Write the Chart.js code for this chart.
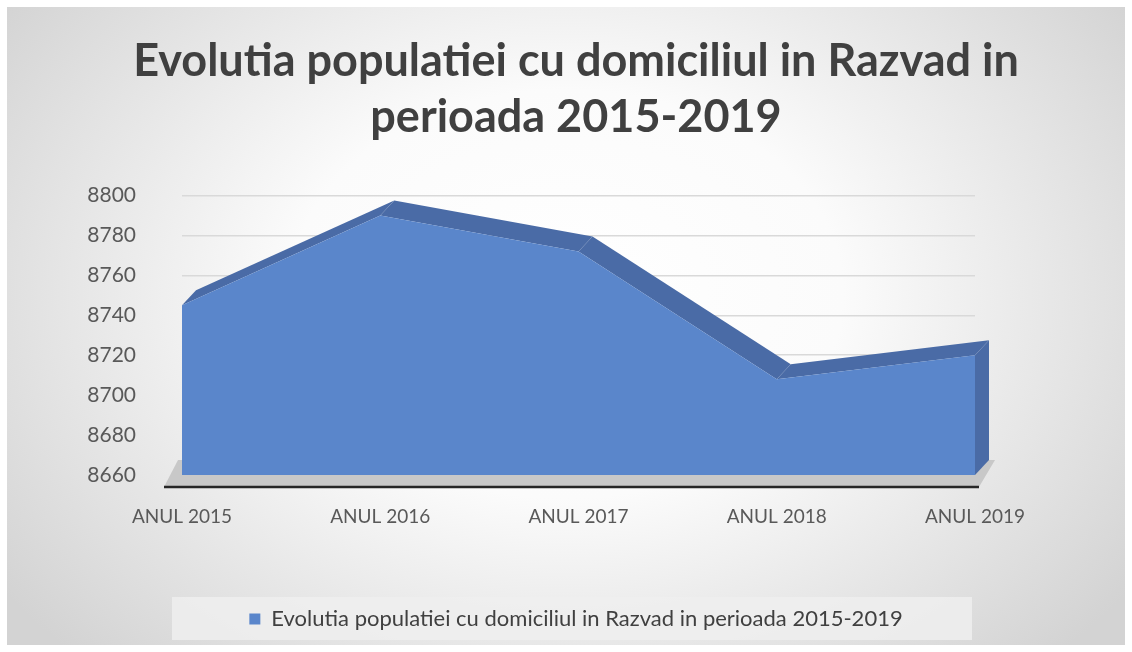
<!DOCTYPE html>
<html>
<head>
<meta charset="utf-8">
<script src="https://cdn.jsdelivr.net/npm/chart.js@4.4.1/dist/chart.umd.min.js"></script>
<style>
  html, body { margin: 0; padding: 0; background: #fff; }
  #wrap {
    position: absolute; left: 7px; top: 7px; width: 1118px; height: 638px;
    background: radial-gradient(ellipse 62% 80% at 50% 45%, #ffffff 0%, #fbfbfb 40%, #d3d3d3 100%);
  }
  canvas { display: block; }
</style>
</head>
<body>
<div id="wrap"><canvas id="popChart" width="1118" height="638"></canvas></div>
<script>
// date
const ani = ["ANUL 2015", "ANUL 2016", "ANUL 2017", "ANUL 2018", "ANUL 2019"];
const populatie = [8745, 8790, 8772, 8708, 8720];
const yMin = 8660;
const yMax = 8800;
const yPas = 20;
const titlu = ["Evolutia populatiei cu domiciliul in Razvad in", "perioada 2015-2019"];
const numeSerie = "Evolutia populatiei cu domiciliul in Razvad in perioada 2015-2019";

const albastru = "#5a86cb";
const albastruInchis = "#4a6ba6";
const adancime = { dx: 14, dy: -15 };

// fundal legenda
const legendBox = {
    id: "legendBox",
    beforeDraw(chart) {
        const lg = chart.legend;
        const ca = chart.chartArea;
        const ctx = chart.ctx;
        ctx.save();
        ctx.fillStyle = "rgba(238,238,238,0.85)";
        ctx.fillRect(ca.left - 10, lg.top, ca.right - ca.left + 7, lg.height);
        ctx.restore();
    },
};

// efect 3D: podea + partea de sus a ariei
const efect3d = {
    id: "efect3d",
    beforeDatasetsDraw(chart) {
        const ctx = chart.ctx;
        const ca = chart.chartArea;
        const pts = chart.getDatasetMeta(0).data;
        const dx = adancime.dx, dy = adancime.dy;
        const B = ca.bottom;
        ctx.save();
        // podea
        ctx.fillStyle = "#c8c8c8";
        ctx.beginPath();
        ctx.moveTo(ca.left - 18, B + 12);
        ctx.lineTo(ca.right + 4, B + 12);
        ctx.lineTo(ca.right + dx + 6, B + dy);
        ctx.lineTo(ca.left - 18 + dx, B + dy);
        ctx.closePath();
        ctx.fill();
        ctx.strokeStyle = "#262626";
        ctx.lineWidth = 2.5;
        ctx.beginPath();
        ctx.moveTo(ca.left - 18, B + 12);
        ctx.lineTo(ca.right + 4, B + 12);
        ctx.stroke();
        // suprafata de sus
        ctx.fillStyle = albastruInchis;
        for (let i = 0; i < pts.length - 1; i++) {
            const a = pts[i], b = pts[i + 1];
            ctx.beginPath();
            ctx.moveTo(a.x, a.y);
            ctx.lineTo(b.x, b.y);
            ctx.lineTo(b.x + dx, b.y + dy);
            ctx.lineTo(a.x + dx, a.y + dy);
            ctx.closePath();
            ctx.fill();
        }
        // latura din dreapta
        const u = pts[pts.length - 1];
        ctx.beginPath();
        ctx.moveTo(u.x, u.y);
        ctx.lineTo(u.x + dx, u.y + dy);
        ctx.lineTo(u.x + dx, B + dy);
        ctx.lineTo(u.x, B);
        ctx.closePath();
        ctx.fill();
        ctx.restore();
    },
};

new Chart(document.getElementById("popChart").getContext("2d"), {
    type: "line",
    data: {
        labels: ani,
        datasets: [
            {
                label: numeSerie,
                data: populatie,
                fill: "start",
                backgroundColor: albastru,
                borderWidth: 0,
                pointRadius: 0,
                tension: 0,
            },
        ],
    },
    options: {
        responsive: false,
        animation: false,
        layout: { padding: { left: 20, right: 0, top: 0, bottom: 5 } },
        plugins: {
            title: {
                display: true,
                text: titlu,
                color: "#404040",
                font: { family: "Lato", size: 45, weight: "bold", lineHeight: 1.25 },
                padding: { top: 26, bottom: 50 },
            },
            legend: {
                position: "bottom",
                labels: {
                    color: "#404040",
                    font: { family: "Lato", size: 22 },
                    boxWidth: 11,
                    boxHeight: 11,
                    padding: 11,
                },
            },
            tooltip: { enabled: false },
        },
        scales: {
            x: {
                offset: false,
                grid: { display: false },
                border: { display: false },
                ticks: {
                    color: "#595959",
                    font: { family: "Lato", size: 19 },
                    padding: 22,
                    maxRotation: 0,
                },
                afterFit: (scale) => { scale.height = 122; },
            },
            y: {
                min: yMin,
                max: yMax,
                grid: { color: "#d9d9d9", lineWidth: 1.5, drawTicks: false },
                border: { display: false },
                ticks: {
                    stepSize: yPas,
                    color: "#595959",
                    font: { family: "Lato", size: 21 },
                    padding: 46,
                    callback: (v) => String(v),
                },
                afterFit: (scale) => { scale.width = 155; },
            },
            // spatiu gol in dreapta
            dreapta: {
                position: "right",
                min: yMin,
                max: yMax,
                grid: { display: false },
                border: { display: false },
                ticks: { display: false },
                afterFit: (scale) => { scale.width = 150; },
            },
        },
    },
    plugins: [legendBox, efect3d],
});
</script>
</body>
</html>
